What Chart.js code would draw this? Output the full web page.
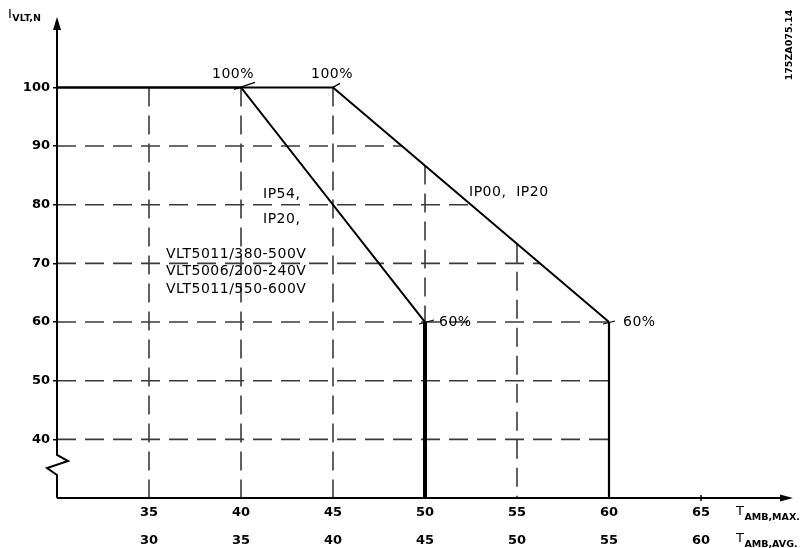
<!DOCTYPE html>
<html>
<head>
<meta charset="utf-8">
<script src="https://cdn.jsdelivr.net/npm/chart.js@4.4.1/dist/chart.umd.min.js"></script>
<style>
  html, body { margin: 0; padding: 0; background: #fff; }
  canvas { display: block; }
</style>
</head>
<body>
<canvas id="chart1" width="801" height="548"></canvas>
<script>
// derating curves, x = T_AMB,MAX (°C), y = I_VLT,N (%)
const tempIP54 = [30, 40, 50];
const currentIP54 = [100, 100, 60];
const cutoffTempIP54 = [50, 50];
const cutoffCurrentIP54 = [60, 30];

const tempIP20 = [30, 45, 60];
const currentIP20 = [100, 100, 60];
const cutoffTempIP20 = [60, 60];
const cutoffCurrentIP20 = [60, 30];

// axis ticks
const tempMaxTicks = [35, 40, 45, 50, 55, 60, 65];
const tempAvgTicks = [30, 35, 40, 45, 50, 55, 60];
const currentTicks = [40, 50, 60, 70, 80, 90, 100];

// dashed helper lines
const gridTemps = [35, 40, 45, 50, 55, 60];
const gridCurrents = [40, 50, 60, 70, 80, 90];

const FONT = '"DejaVu Sans", "Liberation Sans", sans-serif';

const toPoints = (xs, ys) => xs.map((x, i) => ({x: x, y: ys[i]}));

// where the outer (IP00/IP20) curve sits, used to cut the dashed lines
function outerCurrentAt(t) {
    for (let i = 0; i < tempIP20.length - 1; i++) {
        const t0 = tempIP20[i], t1 = tempIP20[i + 1];
        if (t >= t0 && t <= t1) {
            return currentIP20[i] + (currentIP20[i + 1] - currentIP20[i]) * (t - t0) / (t1 - t0);
        }
    }
    return currentIP20[currentIP20.length - 1];
}

function outerTempAt(c) {
    for (let i = 0; i < currentIP20.length - 1; i++) {
        const c0 = currentIP20[i], c1 = currentIP20[i + 1];
        if (c0 !== c1 && c <= Math.max(c0, c1) && c >= Math.min(c0, c1)) {
            return tempIP20[i] + (tempIP20[i + 1] - tempIP20[i]) * (c - c0) / (c1 - c0);
        }
    }
    return tempIP20[tempIP20.length - 1];
}

const dashedGrid = {
    id: 'dashedGrid',
    beforeDatasetsDraw(chart) {
        const {ctx, scales: {x, y}} = chart;
        ctx.save();
        ctx.strokeStyle = '#3a3a3a';
        ctx.lineWidth = 1.6;
        ctx.setLineDash([19, 9]);
        gridCurrents.forEach(c => {
            ctx.beginPath();
            ctx.moveTo(x.getPixelForValue(30), y.getPixelForValue(c));
            ctx.lineTo(x.getPixelForValue(outerTempAt(c)), y.getPixelForValue(c));
            ctx.stroke();
        });
        gridTemps.forEach(t => {
            ctx.beginPath();
            ctx.moveTo(x.getPixelForValue(t), y.getPixelForValue(Math.min(100, outerCurrentAt(t))));
            ctx.lineTo(x.getPixelForValue(t), y.getPixelForValue(30));
            ctx.stroke();
        });
        ctx.restore();
    }
};

function subLabel(ctx, main, sub, x, yBase, subDrop) {
    ctx.font = '13px ' + FONT;
    ctx.fillText(main, x, yBase);
    const w = ctx.measureText(main).width;
    ctx.font = 'bold 9.5px ' + FONT;
    ctx.fillText(sub, x + w + 0.5, yBase + subDrop);
}

const decorations = {
    id: 'decorations',
    afterDatasetsDraw(chart) {
        const {ctx, chartArea: a, scales: {x, y}} = chart;
        const L = a.left, B = a.bottom;
        ctx.save();
        ctx.strokeStyle = '#000';
        ctx.fillStyle = '#000';
        ctx.lineWidth = 2;
        ctx.setLineDash([]);

        // x axis with arrow
        ctx.beginPath();
        ctx.moveTo(L, B);
        ctx.lineTo(a.right - 6, B);
        ctx.stroke();
        ctx.beginPath();
        ctx.moveTo(a.right, B);
        ctx.lineTo(a.right - 13, B - 3.5);
        ctx.lineTo(a.right - 13, B + 3.5);
        ctx.closePath();
        ctx.fill();
        ctx.lineWidth = 1.5;
        ctx.beginPath();
        ctx.moveTo(x.getPixelForValue(65), B - 3);
        ctx.lineTo(x.getPixelForValue(65), B + 3);
        ctx.stroke();

        // y axis with break and arrow
        ctx.lineWidth = 2;
        ctx.beginPath();
        ctx.moveTo(L, a.top + 6);
        ctx.lineTo(L, B - 43);
        ctx.lineTo(L + 11, B - 37);
        ctx.lineTo(L - 10, B - 30);
        ctx.lineTo(L, B - 23);
        ctx.lineTo(L, B);
        ctx.stroke();
        ctx.beginPath();
        ctx.moveTo(L, a.top);
        ctx.lineTo(L - 4, a.top + 13);
        ctx.lineTo(L + 4, a.top + 13);
        ctx.closePath();
        ctx.fill();

        // small leader strokes at the corner points
        ctx.lineWidth = 1.2;
        const p40 = [x.getPixelForValue(40), y.getPixelForValue(100)];
        const p45 = [x.getPixelForValue(45), y.getPixelForValue(100)];
        const p50 = [x.getPixelForValue(50), y.getPixelForValue(60)];
        const p60 = [x.getPixelForValue(60), y.getPixelForValue(60)];
        ctx.beginPath();
        ctx.moveTo(p40[0] - 7, p40[1] + 2);
        ctx.lineTo(p40[0] + 14, p40[1] - 5);
        ctx.moveTo(p45[0], p45[1]);
        ctx.lineTo(p45[0] + 7, p45[1] - 4);
        ctx.moveTo(p50[0] - 6, p50[1] + 2);
        ctx.lineTo(p50[0] + 9, p50[1] - 2);
        ctx.moveTo(p60[0] - 6, p60[1] + 2);
        ctx.lineTo(p60[0] + 6, p60[1] - 1);
        ctx.stroke();

        // annotations
        ctx.font = '14px ' + FONT;
        ctx.letterSpacing = '0.5px';
        ctx.textBaseline = 'middle';
        ctx.textAlign = 'center';
        ctx.fillText('100%', p40[0] - 8, 74);
        ctx.fillText('100%', p45[0] - 1, 74);
        ctx.textAlign = 'left';
        ctx.fillText('60%', p50[0] + 14, p50[1]);
        ctx.fillText('60%', p60[0] + 14, p60[1]);
        ctx.fillText('IP00,  IP20', 469, 192);
        ctx.fillText('IP54,', 263, 194);
        ctx.fillText('IP20,', 263, 219);
        ctx.fillText('VLT5011/380-500V', 166, 254);
        ctx.fillText('VLT5006/200-240V', 166, 271);
        ctx.fillText('VLT5011/550-600V', 166, 289);
        ctx.letterSpacing = '0px';

        // axis titles
        ctx.textBaseline = 'alphabetic';
        subLabel(ctx, 'I', 'VLT,N', 8, 18, 3);
        subLabel(ctx, 'T', 'AMB,MAX.', 736, 515, 5);
        subLabel(ctx, 'T', 'AMB,AVG.', 736, 542, 5);

        // drawing code, rotated
        ctx.translate(790, 45);
        ctx.rotate(-Math.PI / 2);
        ctx.textAlign = 'center';
        ctx.textBaseline = 'middle';
        ctx.font = 'bold 9.5px ' + FONT;
        ctx.fillText('175ZA075.14', 0, 0);
        ctx.restore();
    }
};

const lineStyle = {
    showLine: true,
    borderColor: '#000',
    backgroundColor: '#000',
    pointRadius: 0,
    tension: 0,
    fill: false,
    clip: false,
};

new Chart(
    document.getElementById('chart1'),
    {
        type: 'scatter',
        data: {
            datasets: [
                {...lineStyle, label: 'IP54, IP20', data: toPoints(tempIP54, currentIP54), borderWidth: 2},
                {...lineStyle, label: 'IP54 cutoff', data: toPoints(cutoffTempIP54, cutoffCurrentIP54), borderWidth: 4},
                {...lineStyle, label: 'IP00, IP20', data: toPoints(tempIP20, currentIP20), borderWidth: 2},
                {...lineStyle, label: 'IP00 cutoff', data: toPoints(cutoffTempIP20, cutoffCurrentIP20), borderWidth: 2.2},
            ]
        },
        options: {
            responsive: false,
            animation: false,
            layout: {padding: {top: 17, right: 8, left: 0, bottom: 0}},
            plugins: {
                legend: {display: false},
                tooltip: {enabled: false},
            },
            scales: {
                x: {
                    type: 'linear',
                    min: 30,
                    max: 70,
                    afterFit: s => { s.height = 50; },
                    afterBuildTicks: s => { s.ticks = tempMaxTicks.map(v => ({value: v})); },
                    grid: {display: false, drawTicks: false},
                    border: {display: false},
                    ticks: {
                        padding: 1,
                        color: '#000',
                        maxRotation: 0,
                        autoSkip: false,
                        font: {family: FONT, size: 13, weight: 'bold', lineHeight: 27.5 / 13},
                        callback: (v) => {
                            const i = tempMaxTicks.indexOf(v);
                            return [String(tempMaxTicks[i]), String(tempAvgTicks[i])];
                        },
                    },
                },
                y: {
                    type: 'linear',
                    min: 30,
                    max: 112,
                    afterFit: s => { s.width = 57; },
                    afterBuildTicks: s => { s.ticks = currentTicks.map(v => ({value: v})); },
                    grid: {display: true, drawOnChartArea: false, drawTicks: true, tickLength: 4, color: '#000', lineWidth: 1.5},
                    border: {display: false},
                    ticks: {
                        padding: 3,
                        color: '#000',
                        autoSkip: false,
                        font: {family: FONT, size: 13, weight: 'bold'},
                    },
                },
            },
        },
        plugins: [dashedGrid, decorations],
    }
);
</script>
</body>
</html>
